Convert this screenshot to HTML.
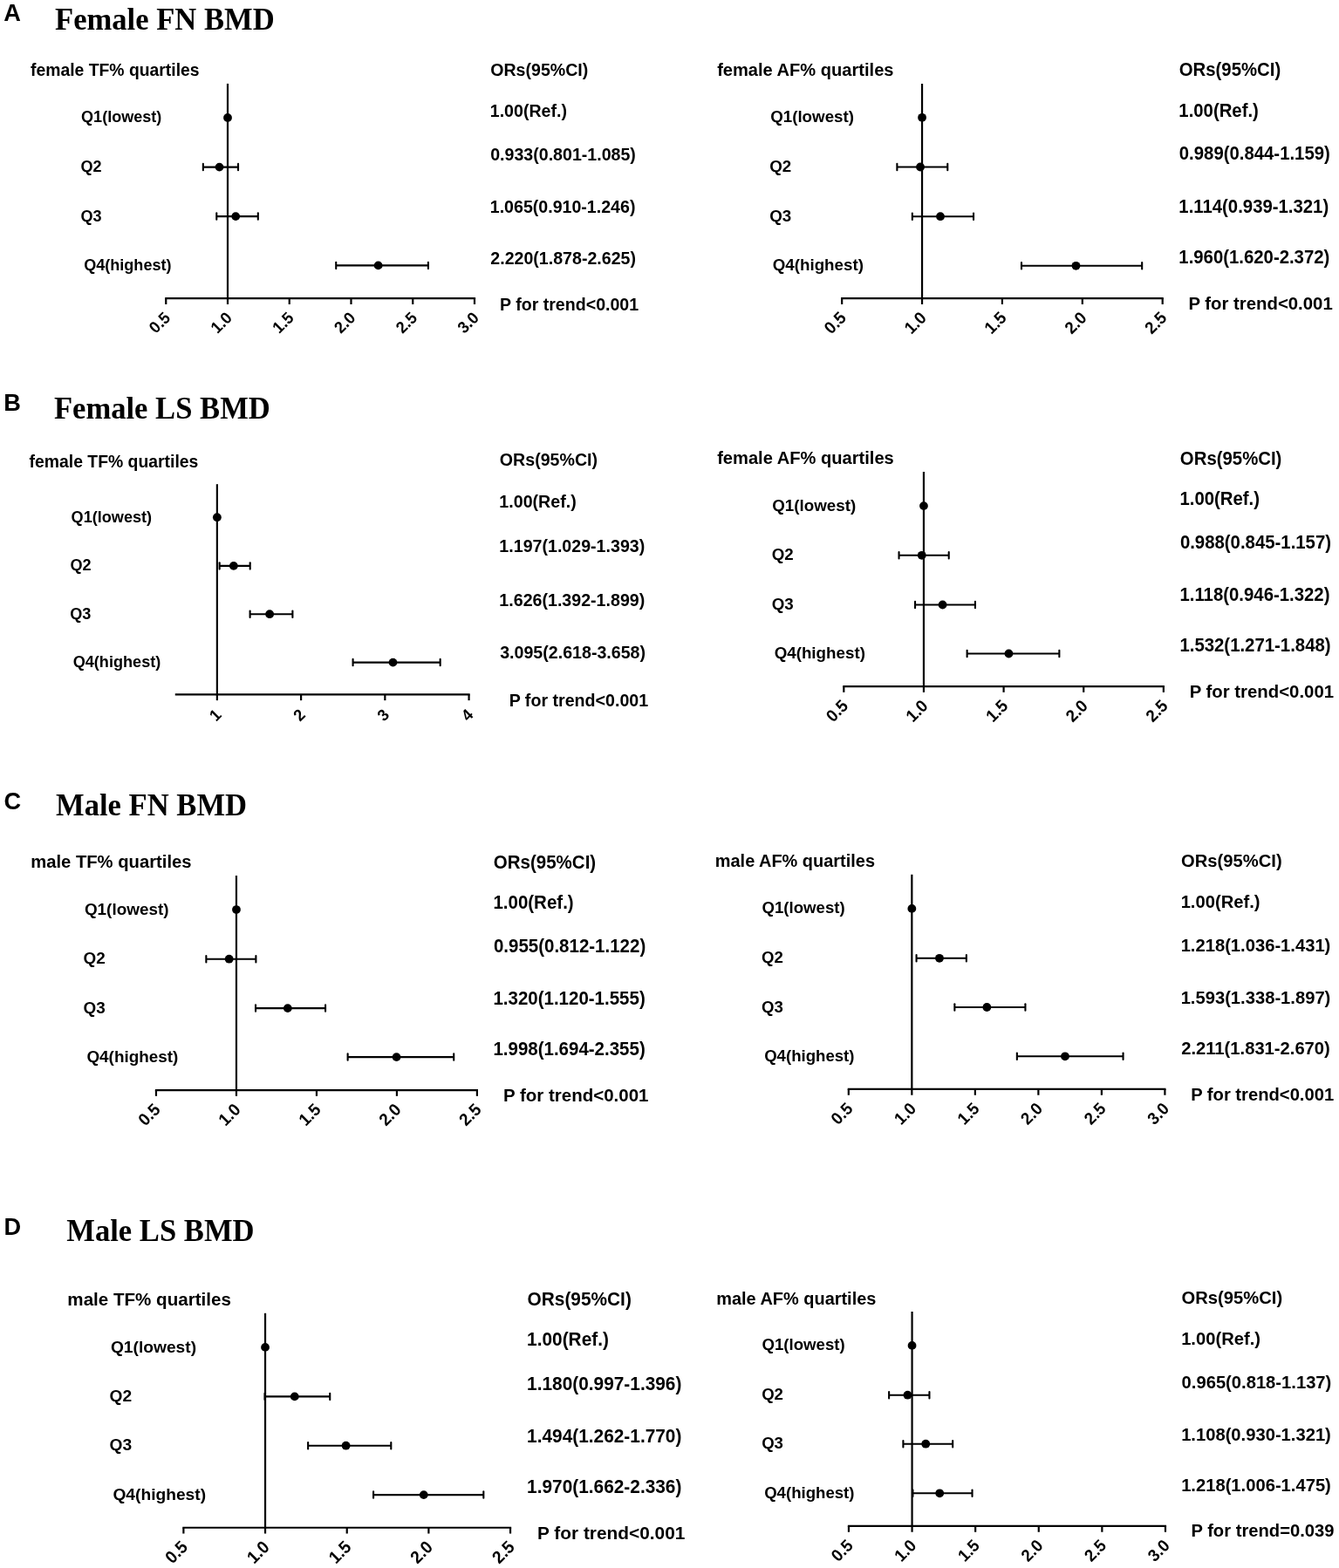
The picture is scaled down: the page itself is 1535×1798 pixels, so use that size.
<!DOCTYPE html>
<html><head><meta charset="utf-8"><title>Forest plots</title>
<style>
html,body{margin:0;padding:0;background:#fff;}
body{width:1535px;height:1798px;overflow:hidden;}
svg{display:block;}
.f1{font-family:"Liberation Sans",Arial,sans-serif;font-weight:bold;fill:#000;}
.f2{font-family:"Liberation Serif","Times New Roman",serif;font-weight:bold;fill:#000;}
line{stroke:#000;}
circle{fill:#000;}
</style></head>
<body>
<svg width="1535" height="1798" viewBox="0 0 1535 1798">
<rect width="1535" height="1798" fill="#fff"/>
<text class="f1" x="4.32" y="24.20" font-size="27.2">A</text>
<text class="f1" x="4.24" y="470.80" font-size="27.2">B</text>
<text class="f1" x="4.38" y="927.60" font-size="27.2">C</text>
<text class="f1" x="4.43" y="1416.00" font-size="27.2">D</text>
<text class="f2" transform="translate(63.01 33.90) scale(1 1.05)" font-size="34.6">Female FN BMD</text>
<text class="f2" transform="translate(61.91 479.90) scale(1 1.05)" font-size="34.6">Female LS BMD</text>
<text class="f2" transform="translate(64.01 934.80) scale(1 1.05)" font-size="34.6">Male FN BMD</text>
<text class="f2" transform="translate(76.31 1423.00) scale(1 1.05)" font-size="34.6">Male LS BMD</text>
<text class="f1" x="35.07" y="87.00" font-size="19.35">female TF% quartiles</text>
<line x1="189.16" y1="342.15" x2="545.08" y2="342.15" stroke-width="2.2" stroke-linecap="butt"/>
<line x1="261.00" y1="95.90" x2="261.00" y2="343.25" stroke-width="2.2" stroke-linecap="butt"/>
<line x1="190.25" y1="342.15" x2="190.25" y2="348.95" stroke-width="2.2" stroke-linecap="butt"/>
<text class="f1" font-size="18.03" text-anchor="end" transform="translate(196.25 365.65) rotate(-45) scale(1 1.04)">0.5</text>
<line x1="261.00" y1="342.15" x2="261.00" y2="348.95" stroke-width="2.2" stroke-linecap="butt"/>
<text class="f1" font-size="18.03" text-anchor="end" transform="translate(267.00 365.65) rotate(-45) scale(1 1.04)">1.0</text>
<line x1="331.75" y1="342.15" x2="331.75" y2="348.95" stroke-width="2.2" stroke-linecap="butt"/>
<text class="f1" font-size="18.03" text-anchor="end" transform="translate(337.75 365.65) rotate(-45) scale(1 1.04)">1.5</text>
<line x1="402.49" y1="342.15" x2="402.49" y2="348.95" stroke-width="2.2" stroke-linecap="butt"/>
<text class="f1" font-size="18.03" text-anchor="end" transform="translate(408.49 365.65) rotate(-45) scale(1 1.04)">2.0</text>
<line x1="473.24" y1="342.15" x2="473.24" y2="348.95" stroke-width="2.2" stroke-linecap="butt"/>
<text class="f1" font-size="18.03" text-anchor="end" transform="translate(479.24 365.65) rotate(-45) scale(1 1.04)">2.5</text>
<line x1="543.98" y1="342.15" x2="543.98" y2="348.95" stroke-width="2.2" stroke-linecap="butt"/>
<text class="f1" font-size="18.03" text-anchor="end" transform="translate(549.98 365.65) rotate(-45) scale(1 1.04)">3.0</text>
<circle cx="261.00" cy="135.00" r="4.9"/>
<line x1="232.84" y1="191.60" x2="273.03" y2="191.60" stroke-width="2.1" stroke-linecap="butt"/>
<line x1="232.84" y1="187.90" x2="232.84" y2="195.30" stroke-width="2.1" stroke-linecap="round"/>
<line x1="273.03" y1="187.90" x2="273.03" y2="195.30" stroke-width="2.1" stroke-linecap="round"/>
<circle cx="251.52" cy="191.60" r="4.9"/>
<line x1="248.27" y1="248.10" x2="295.81" y2="248.10" stroke-width="2.1" stroke-linecap="butt"/>
<line x1="248.27" y1="244.40" x2="248.27" y2="251.80" stroke-width="2.1" stroke-linecap="round"/>
<line x1="295.81" y1="244.40" x2="295.81" y2="251.80" stroke-width="2.1" stroke-linecap="round"/>
<circle cx="270.20" cy="248.10" r="4.9"/>
<line x1="385.23" y1="304.40" x2="490.92" y2="304.40" stroke-width="2.1" stroke-linecap="butt"/>
<line x1="385.23" y1="300.70" x2="385.23" y2="308.10" stroke-width="2.1" stroke-linecap="round"/>
<line x1="490.92" y1="300.70" x2="490.92" y2="308.10" stroke-width="2.1" stroke-linecap="round"/>
<circle cx="433.62" cy="304.40" r="4.9"/>
<text class="f1" x="93.06" y="140.42" font-size="18.07">Q1(lowest)</text>
<text class="f1" x="92.56" y="197.02" font-size="18.07">Q2</text>
<text class="f1" x="92.56" y="253.52" font-size="18.07">Q3</text>
<text class="f1" x="96.16" y="309.82" font-size="18.07">Q4(highest)</text>
<text class="f1" transform="translate(562.20 87.00) scale(1 1.04)" font-size="19.6">ORs(95%CI)</text>
<text class="f1" transform="translate(561.77 133.80) scale(1 1.04)" font-size="19.6">1.00(Ref.)</text>
<text class="f1" transform="translate(562.22 184.00) scale(1 1.04)" font-size="19.6">0.933(0.801-1.085)</text>
<text class="f1" transform="translate(561.77 244.10) scale(1 1.04)" font-size="19.6">1.065(0.910-1.246)</text>
<text class="f1" transform="translate(562.32 302.80) scale(1 1.04)" font-size="19.6">2.220(1.878-2.625)</text>
<text class="f1" x="572.99" y="355.60" font-size="19.6">P for trend&lt;0.001</text>
<text class="f1" x="822.16" y="87.00" font-size="20.09">female AF% quartiles</text>
<line x1="964.06" y1="342.15" x2="1333.80" y2="342.15" stroke-width="2.2" stroke-linecap="butt"/>
<line x1="1057.05" y1="96.00" x2="1057.05" y2="343.25" stroke-width="2.2" stroke-linecap="butt"/>
<line x1="965.16" y1="342.15" x2="965.16" y2="348.95" stroke-width="2.2" stroke-linecap="butt"/>
<text class="f1" font-size="18.72" text-anchor="end" transform="translate(971.16 365.65) rotate(-45) scale(1 1.04)">0.5</text>
<line x1="1057.05" y1="342.15" x2="1057.05" y2="348.95" stroke-width="2.2" stroke-linecap="butt"/>
<text class="f1" font-size="18.72" text-anchor="end" transform="translate(1063.05 365.65) rotate(-45) scale(1 1.04)">1.0</text>
<line x1="1148.93" y1="342.15" x2="1148.93" y2="348.95" stroke-width="2.2" stroke-linecap="butt"/>
<text class="f1" font-size="18.72" text-anchor="end" transform="translate(1154.93 365.65) rotate(-45) scale(1 1.04)">1.5</text>
<line x1="1240.82" y1="342.15" x2="1240.82" y2="348.95" stroke-width="2.2" stroke-linecap="butt"/>
<text class="f1" font-size="18.72" text-anchor="end" transform="translate(1246.82 365.65) rotate(-45) scale(1 1.04)">2.0</text>
<line x1="1332.70" y1="342.15" x2="1332.70" y2="348.95" stroke-width="2.2" stroke-linecap="butt"/>
<text class="f1" font-size="18.72" text-anchor="end" transform="translate(1338.70 365.65) rotate(-45) scale(1 1.04)">2.5</text>
<circle cx="1057.05" cy="134.80" r="4.9"/>
<line x1="1028.38" y1="191.50" x2="1086.27" y2="191.50" stroke-width="2.1" stroke-linecap="butt"/>
<line x1="1028.38" y1="187.80" x2="1028.38" y2="195.20" stroke-width="2.1" stroke-linecap="round"/>
<line x1="1086.27" y1="187.80" x2="1086.27" y2="195.20" stroke-width="2.1" stroke-linecap="round"/>
<circle cx="1055.03" cy="191.50" r="4.9"/>
<line x1="1045.84" y1="248.20" x2="1116.04" y2="248.20" stroke-width="2.1" stroke-linecap="butt"/>
<line x1="1045.84" y1="244.50" x2="1045.84" y2="251.90" stroke-width="2.1" stroke-linecap="round"/>
<line x1="1116.04" y1="244.50" x2="1116.04" y2="251.90" stroke-width="2.1" stroke-linecap="round"/>
<circle cx="1078.00" cy="248.20" r="4.9"/>
<line x1="1170.99" y1="304.80" x2="1309.18" y2="304.80" stroke-width="2.1" stroke-linecap="butt"/>
<line x1="1170.99" y1="301.10" x2="1170.99" y2="308.50" stroke-width="2.1" stroke-linecap="round"/>
<line x1="1309.18" y1="301.10" x2="1309.18" y2="308.50" stroke-width="2.1" stroke-linecap="round"/>
<circle cx="1233.47" cy="304.80" r="4.9"/>
<text class="f1" x="883.13" y="140.43" font-size="18.76">Q1(lowest)</text>
<text class="f1" x="882.23" y="197.13" font-size="18.76">Q2</text>
<text class="f1" x="882.23" y="253.83" font-size="18.76">Q3</text>
<text class="f1" x="885.73" y="310.43" font-size="18.76">Q4(highest)</text>
<text class="f1" transform="translate(1351.77 87.20) scale(1 1.04)" font-size="20.35">ORs(95%CI)</text>
<text class="f1" transform="translate(1351.32 133.50) scale(1 1.04)" font-size="20.35">1.00(Ref.)</text>
<text class="f1" transform="translate(1351.80 183.10) scale(1 1.04)" font-size="20.35">0.989(0.844-1.159)</text>
<text class="f1" transform="translate(1351.32 243.80) scale(1 1.04)" font-size="20.35">1.114(0.939-1.321)</text>
<text class="f1" transform="translate(1351.32 302.30) scale(1 1.04)" font-size="20.35">1.960(1.620-2.372)</text>
<text class="f1" x="1362.44" y="355.40" font-size="20.35">P for trend&lt;0.001</text>
<text class="f1" x="33.57" y="535.90" font-size="19.39">female TF% quartiles</text>
<line x1="200.76" y1="796.34" x2="538.67" y2="796.34" stroke-width="2.2" stroke-linecap="butt"/>
<line x1="248.88" y1="555.20" x2="248.88" y2="797.44" stroke-width="2.2" stroke-linecap="butt"/>
<line x1="248.88" y1="796.34" x2="248.88" y2="803.14" stroke-width="2.2" stroke-linecap="butt"/>
<text class="f1" font-size="18.07" text-anchor="end" transform="translate(254.88 820.84) rotate(-45) scale(1 1.04)">1</text>
<line x1="345.11" y1="796.34" x2="345.11" y2="803.14" stroke-width="2.2" stroke-linecap="butt"/>
<text class="f1" font-size="18.07" text-anchor="end" transform="translate(351.11 820.84) rotate(-45) scale(1 1.04)">2</text>
<line x1="441.34" y1="796.34" x2="441.34" y2="803.14" stroke-width="2.2" stroke-linecap="butt"/>
<text class="f1" font-size="18.07" text-anchor="end" transform="translate(447.34 820.84) rotate(-45) scale(1 1.04)">3</text>
<line x1="537.57" y1="796.34" x2="537.57" y2="803.14" stroke-width="2.2" stroke-linecap="butt"/>
<text class="f1" font-size="18.07" text-anchor="end" transform="translate(543.57 820.84) rotate(-45) scale(1 1.04)">4</text>
<circle cx="248.88" cy="593.20" r="4.9"/>
<line x1="251.67" y1="648.90" x2="286.70" y2="648.90" stroke-width="2.1" stroke-linecap="butt"/>
<line x1="251.67" y1="645.20" x2="251.67" y2="652.60" stroke-width="2.1" stroke-linecap="round"/>
<line x1="286.70" y1="645.20" x2="286.70" y2="652.60" stroke-width="2.1" stroke-linecap="round"/>
<circle cx="267.84" cy="648.90" r="4.9"/>
<line x1="286.60" y1="704.20" x2="335.39" y2="704.20" stroke-width="2.1" stroke-linecap="butt"/>
<line x1="286.60" y1="700.50" x2="286.60" y2="707.90" stroke-width="2.1" stroke-linecap="round"/>
<line x1="335.39" y1="700.50" x2="335.39" y2="707.90" stroke-width="2.1" stroke-linecap="round"/>
<circle cx="309.12" cy="704.20" r="4.9"/>
<line x1="404.58" y1="759.60" x2="504.66" y2="759.60" stroke-width="2.1" stroke-linecap="butt"/>
<line x1="404.58" y1="755.90" x2="404.58" y2="763.30" stroke-width="2.1" stroke-linecap="round"/>
<line x1="504.66" y1="755.90" x2="504.66" y2="763.30" stroke-width="2.1" stroke-linecap="round"/>
<circle cx="450.48" cy="759.60" r="4.9"/>
<text class="f1" x="81.56" y="598.63" font-size="18.11">Q1(lowest)</text>
<text class="f1" x="80.46" y="654.33" font-size="18.11">Q2</text>
<text class="f1" x="80.26" y="709.63" font-size="18.11">Q3</text>
<text class="f1" x="83.66" y="765.03" font-size="18.11">Q4(highest)</text>
<text class="f1" transform="translate(572.79 533.60) scale(1 1.04)" font-size="19.64">ORs(95%CI)</text>
<text class="f1" transform="translate(572.36 581.70) scale(1 1.04)" font-size="19.64">1.00(Ref.)</text>
<text class="f1" transform="translate(572.36 633.00) scale(1 1.04)" font-size="19.64">1.197(1.029-1.393)</text>
<text class="f1" transform="translate(572.36 695.40) scale(1 1.04)" font-size="19.64">1.626(1.392-1.899)</text>
<text class="f1" transform="translate(573.15 755.00) scale(1 1.04)" font-size="19.64">3.095(2.618-3.658)</text>
<text class="f1" x="583.69" y="810.00" font-size="19.64">P for trend&lt;0.001</text>
<text class="f1" x="822.16" y="532.20" font-size="20.11">female AF% quartiles</text>
<line x1="966.22" y1="787.05" x2="1334.95" y2="787.05" stroke-width="2.2" stroke-linecap="butt"/>
<line x1="1058.95" y1="541.00" x2="1058.95" y2="788.15" stroke-width="2.2" stroke-linecap="butt"/>
<line x1="967.32" y1="787.05" x2="967.32" y2="793.85" stroke-width="2.2" stroke-linecap="butt"/>
<text class="f1" font-size="18.74" text-anchor="end" transform="translate(973.32 810.55) rotate(-45) scale(1 1.04)">0.5</text>
<line x1="1058.95" y1="787.05" x2="1058.95" y2="793.85" stroke-width="2.2" stroke-linecap="butt"/>
<text class="f1" font-size="18.74" text-anchor="end" transform="translate(1064.95 810.55) rotate(-45) scale(1 1.04)">1.0</text>
<line x1="1150.59" y1="787.05" x2="1150.59" y2="793.85" stroke-width="2.2" stroke-linecap="butt"/>
<text class="f1" font-size="18.74" text-anchor="end" transform="translate(1156.59 810.55) rotate(-45) scale(1 1.04)">1.5</text>
<line x1="1242.22" y1="787.05" x2="1242.22" y2="793.85" stroke-width="2.2" stroke-linecap="butt"/>
<text class="f1" font-size="18.74" text-anchor="end" transform="translate(1248.22 810.55) rotate(-45) scale(1 1.04)">2.0</text>
<line x1="1333.86" y1="787.05" x2="1333.86" y2="793.85" stroke-width="2.2" stroke-linecap="butt"/>
<text class="f1" font-size="18.74" text-anchor="end" transform="translate(1339.86 810.55) rotate(-45) scale(1 1.04)">2.5</text>
<circle cx="1058.95" cy="580.10" r="4.9"/>
<line x1="1030.54" y1="636.80" x2="1087.72" y2="636.80" stroke-width="2.1" stroke-linecap="butt"/>
<line x1="1030.54" y1="633.10" x2="1030.54" y2="640.50" stroke-width="2.1" stroke-linecap="round"/>
<line x1="1087.72" y1="633.10" x2="1087.72" y2="640.50" stroke-width="2.1" stroke-linecap="round"/>
<circle cx="1056.75" cy="636.80" r="4.9"/>
<line x1="1049.05" y1="693.50" x2="1117.96" y2="693.50" stroke-width="2.1" stroke-linecap="butt"/>
<line x1="1049.05" y1="689.80" x2="1049.05" y2="697.20" stroke-width="2.1" stroke-linecap="round"/>
<line x1="1117.96" y1="689.80" x2="1117.96" y2="697.20" stroke-width="2.1" stroke-linecap="round"/>
<circle cx="1080.58" cy="693.50" r="4.9"/>
<line x1="1108.62" y1="749.50" x2="1214.36" y2="749.50" stroke-width="2.1" stroke-linecap="butt"/>
<line x1="1108.62" y1="745.80" x2="1108.62" y2="753.20" stroke-width="2.1" stroke-linecap="round"/>
<line x1="1214.36" y1="745.80" x2="1214.36" y2="753.20" stroke-width="2.1" stroke-linecap="round"/>
<circle cx="1156.45" cy="749.50" r="4.9"/>
<text class="f1" x="885.23" y="585.73" font-size="18.78">Q1(lowest)</text>
<text class="f1" x="884.63" y="642.43" font-size="18.78">Q2</text>
<text class="f1" x="884.63" y="699.13" font-size="18.78">Q3</text>
<text class="f1" x="887.63" y="755.13" font-size="18.78">Q4(highest)</text>
<text class="f1" transform="translate(1352.86 532.60) scale(1 1.04)" font-size="20.37">ORs(95%CI)</text>
<text class="f1" transform="translate(1352.42 579.20) scale(1 1.04)" font-size="20.37">1.00(Ref.)</text>
<text class="f1" transform="translate(1352.89 629.00) scale(1 1.04)" font-size="20.37">0.988(0.845-1.157)</text>
<text class="f1" transform="translate(1352.42 688.60) scale(1 1.04)" font-size="20.37">1.118(0.946-1.322)</text>
<text class="f1" transform="translate(1352.42 747.30) scale(1 1.04)" font-size="20.37">1.532(1.271-1.848)</text>
<text class="f1" x="1363.64" y="799.80" font-size="20.37">P for trend&lt;0.001</text>
<text class="f1" x="35.17" y="995.00" font-size="20.24">male TF% quartiles</text>
<line x1="177.86" y1="1250.05" x2="548.00" y2="1250.05" stroke-width="2.2" stroke-linecap="butt"/>
<line x1="270.95" y1="1004.00" x2="270.95" y2="1251.15" stroke-width="2.2" stroke-linecap="butt"/>
<line x1="178.96" y1="1250.05" x2="178.96" y2="1256.85" stroke-width="2.2" stroke-linecap="butt"/>
<text class="f1" font-size="18.86" text-anchor="end" transform="translate(184.96 1273.55) rotate(-45) scale(1 1.04)">0.5</text>
<line x1="270.95" y1="1250.05" x2="270.95" y2="1256.85" stroke-width="2.2" stroke-linecap="butt"/>
<text class="f1" font-size="18.86" text-anchor="end" transform="translate(276.95 1273.55) rotate(-45) scale(1 1.04)">1.0</text>
<line x1="362.94" y1="1250.05" x2="362.94" y2="1256.85" stroke-width="2.2" stroke-linecap="butt"/>
<text class="f1" font-size="18.86" text-anchor="end" transform="translate(368.94 1273.55) rotate(-45) scale(1 1.04)">1.5</text>
<line x1="454.92" y1="1250.05" x2="454.92" y2="1256.85" stroke-width="2.2" stroke-linecap="butt"/>
<text class="f1" font-size="18.86" text-anchor="end" transform="translate(460.92 1273.55) rotate(-45) scale(1 1.04)">2.0</text>
<line x1="546.90" y1="1250.05" x2="546.90" y2="1256.85" stroke-width="2.2" stroke-linecap="butt"/>
<text class="f1" font-size="18.86" text-anchor="end" transform="translate(552.90 1273.55) rotate(-45) scale(1 1.04)">2.5</text>
<circle cx="270.95" cy="1043.05" r="4.9"/>
<line x1="236.36" y1="1099.70" x2="293.39" y2="1099.70" stroke-width="2.1" stroke-linecap="butt"/>
<line x1="236.36" y1="1096.00" x2="236.36" y2="1103.40" stroke-width="2.1" stroke-linecap="round"/>
<line x1="293.39" y1="1096.00" x2="293.39" y2="1103.40" stroke-width="2.1" stroke-linecap="round"/>
<circle cx="262.67" cy="1099.70" r="4.9"/>
<line x1="293.03" y1="1156.10" x2="373.05" y2="1156.10" stroke-width="2.1" stroke-linecap="butt"/>
<line x1="293.03" y1="1152.40" x2="293.03" y2="1159.80" stroke-width="2.1" stroke-linecap="round"/>
<line x1="373.05" y1="1152.40" x2="373.05" y2="1159.80" stroke-width="2.1" stroke-linecap="round"/>
<circle cx="329.82" cy="1156.10" r="4.9"/>
<line x1="398.63" y1="1212.10" x2="520.23" y2="1212.10" stroke-width="2.1" stroke-linecap="butt"/>
<line x1="398.63" y1="1208.40" x2="398.63" y2="1215.80" stroke-width="2.1" stroke-linecap="round"/>
<line x1="520.23" y1="1208.40" x2="520.23" y2="1215.80" stroke-width="2.1" stroke-linecap="round"/>
<circle cx="454.55" cy="1212.10" r="4.9"/>
<text class="f1" x="96.92" y="1048.72" font-size="18.9">Q1(lowest)</text>
<text class="f1" x="95.52" y="1105.37" font-size="18.9">Q2</text>
<text class="f1" x="95.52" y="1161.77" font-size="18.9">Q3</text>
<text class="f1" x="99.42" y="1217.77" font-size="18.9">Q4(highest)</text>
<text class="f1" transform="translate(565.86 995.60) scale(1 1.04)" font-size="20.5">ORs(95%CI)</text>
<text class="f1" transform="translate(565.41 1042.20) scale(1 1.04)" font-size="20.5">1.00(Ref.)</text>
<text class="f1" transform="translate(565.89 1092.20) scale(1 1.04)" font-size="20.5">0.955(0.812-1.122)</text>
<text class="f1" transform="translate(565.41 1152.20) scale(1 1.04)" font-size="20.5">1.320(1.120-1.555)</text>
<text class="f1" transform="translate(565.41 1210.00) scale(1 1.04)" font-size="20.5">1.998(1.694-2.355)</text>
<text class="f1" x="576.93" y="1262.50" font-size="20.5">P for trend&lt;0.001</text>
<text class="f1" x="819.79" y="994.20" font-size="19.94">male AF% quartiles</text>
<line x1="971.72" y1="1248.97" x2="1336.50" y2="1248.97" stroke-width="2.2" stroke-linecap="butt"/>
<line x1="1045.34" y1="1002.80" x2="1045.34" y2="1250.07" stroke-width="2.2" stroke-linecap="butt"/>
<line x1="972.82" y1="1248.97" x2="972.82" y2="1255.77" stroke-width="2.2" stroke-linecap="butt"/>
<text class="f1" font-size="18.58" text-anchor="end" transform="translate(978.82 1272.47) rotate(-45) scale(1 1.04)">0.5</text>
<line x1="1045.34" y1="1248.97" x2="1045.34" y2="1255.77" stroke-width="2.2" stroke-linecap="butt"/>
<text class="f1" font-size="18.58" text-anchor="end" transform="translate(1051.34 1272.47) rotate(-45) scale(1 1.04)">1.0</text>
<line x1="1117.86" y1="1248.97" x2="1117.86" y2="1255.77" stroke-width="2.2" stroke-linecap="butt"/>
<text class="f1" font-size="18.58" text-anchor="end" transform="translate(1123.86 1272.47) rotate(-45) scale(1 1.04)">1.5</text>
<line x1="1190.37" y1="1248.97" x2="1190.37" y2="1255.77" stroke-width="2.2" stroke-linecap="butt"/>
<text class="f1" font-size="18.58" text-anchor="end" transform="translate(1196.37 1272.47) rotate(-45) scale(1 1.04)">2.0</text>
<line x1="1262.88" y1="1248.97" x2="1262.88" y2="1255.77" stroke-width="2.2" stroke-linecap="butt"/>
<text class="f1" font-size="18.58" text-anchor="end" transform="translate(1268.88 1272.47) rotate(-45) scale(1 1.04)">2.5</text>
<line x1="1335.40" y1="1248.97" x2="1335.40" y2="1255.77" stroke-width="2.2" stroke-linecap="butt"/>
<text class="f1" font-size="18.58" text-anchor="end" transform="translate(1341.40 1272.47) rotate(-45) scale(1 1.04)">3.0</text>
<circle cx="1045.34" cy="1041.90" r="4.9"/>
<line x1="1050.56" y1="1098.80" x2="1107.85" y2="1098.80" stroke-width="2.1" stroke-linecap="butt"/>
<line x1="1050.56" y1="1095.10" x2="1050.56" y2="1102.50" stroke-width="2.1" stroke-linecap="round"/>
<line x1="1107.85" y1="1095.10" x2="1107.85" y2="1102.50" stroke-width="2.1" stroke-linecap="round"/>
<circle cx="1076.96" cy="1098.80" r="4.9"/>
<line x1="1094.36" y1="1155.00" x2="1175.43" y2="1155.00" stroke-width="2.1" stroke-linecap="butt"/>
<line x1="1094.36" y1="1151.30" x2="1094.36" y2="1158.70" stroke-width="2.1" stroke-linecap="round"/>
<line x1="1175.43" y1="1151.30" x2="1175.43" y2="1158.70" stroke-width="2.1" stroke-linecap="round"/>
<circle cx="1131.34" cy="1155.00" r="4.9"/>
<line x1="1165.86" y1="1211.30" x2="1287.54" y2="1211.30" stroke-width="2.1" stroke-linecap="butt"/>
<line x1="1165.86" y1="1207.60" x2="1165.86" y2="1215.00" stroke-width="2.1" stroke-linecap="round"/>
<line x1="1287.54" y1="1207.60" x2="1287.54" y2="1215.00" stroke-width="2.1" stroke-linecap="round"/>
<circle cx="1220.97" cy="1211.30" r="4.9"/>
<text class="f1" x="873.54" y="1047.49" font-size="18.62">Q1(lowest)</text>
<text class="f1" x="873.04" y="1104.39" font-size="18.62">Q2</text>
<text class="f1" x="873.04" y="1160.59" font-size="18.62">Q3</text>
<text class="f1" x="876.14" y="1216.89" font-size="18.62">Q4(highest)</text>
<text class="f1" transform="translate(1354.07 994.20) scale(1 1.04)" font-size="20.2">ORs(95%CI)</text>
<text class="f1" transform="translate(1353.63 1041.00) scale(1 1.04)" font-size="20.2">1.00(Ref.)</text>
<text class="f1" transform="translate(1353.63 1091.10) scale(1 1.04)" font-size="20.2">1.218(1.036-1.431)</text>
<text class="f1" transform="translate(1353.63 1151.30) scale(1 1.04)" font-size="20.2">1.593(1.338-1.897)</text>
<text class="f1" transform="translate(1354.20 1209.10) scale(1 1.04)" font-size="20.2">2.211(1.831-2.670)</text>
<text class="f1" x="1365.15" y="1261.60" font-size="20.2">P for trend&lt;0.001</text>
<text class="f1" x="77.34" y="1496.70" font-size="20.58">male TF% quartiles</text>
<line x1="209.28" y1="1751.73" x2="586.15" y2="1751.73" stroke-width="2.2" stroke-linecap="butt"/>
<line x1="304.05" y1="1505.80" x2="304.05" y2="1752.83" stroke-width="2.2" stroke-linecap="butt"/>
<line x1="210.38" y1="1751.73" x2="210.38" y2="1758.53" stroke-width="2.2" stroke-linecap="butt"/>
<text class="f1" font-size="19.18" text-anchor="end" transform="translate(216.38 1775.23) rotate(-45) scale(1 1.04)">0.5</text>
<line x1="304.05" y1="1751.73" x2="304.05" y2="1758.53" stroke-width="2.2" stroke-linecap="butt"/>
<text class="f1" font-size="19.18" text-anchor="end" transform="translate(310.05 1775.23) rotate(-45) scale(1 1.04)">1.0</text>
<line x1="397.72" y1="1751.73" x2="397.72" y2="1758.53" stroke-width="2.2" stroke-linecap="butt"/>
<text class="f1" font-size="19.18" text-anchor="end" transform="translate(403.72 1775.23) rotate(-45) scale(1 1.04)">1.5</text>
<line x1="491.38" y1="1751.73" x2="491.38" y2="1758.53" stroke-width="2.2" stroke-linecap="butt"/>
<text class="f1" font-size="19.18" text-anchor="end" transform="translate(497.38 1775.23) rotate(-45) scale(1 1.04)">2.0</text>
<line x1="585.05" y1="1751.73" x2="585.05" y2="1758.53" stroke-width="2.2" stroke-linecap="butt"/>
<text class="f1" font-size="19.18" text-anchor="end" transform="translate(591.05 1775.23) rotate(-45) scale(1 1.04)">2.5</text>
<circle cx="304.05" cy="1544.90" r="4.9"/>
<line x1="303.49" y1="1601.40" x2="378.23" y2="1601.40" stroke-width="2.1" stroke-linecap="butt"/>
<line x1="303.49" y1="1597.70" x2="303.49" y2="1605.10" stroke-width="2.1" stroke-linecap="round"/>
<line x1="378.23" y1="1597.70" x2="378.23" y2="1605.10" stroke-width="2.1" stroke-linecap="round"/>
<circle cx="337.77" cy="1601.40" r="4.9"/>
<line x1="353.13" y1="1657.70" x2="448.29" y2="1657.70" stroke-width="2.1" stroke-linecap="butt"/>
<line x1="353.13" y1="1654.00" x2="353.13" y2="1661.40" stroke-width="2.1" stroke-linecap="round"/>
<line x1="448.29" y1="1654.00" x2="448.29" y2="1661.40" stroke-width="2.1" stroke-linecap="round"/>
<circle cx="396.59" cy="1657.70" r="4.9"/>
<line x1="428.06" y1="1714.10" x2="554.32" y2="1714.10" stroke-width="2.1" stroke-linecap="butt"/>
<line x1="428.06" y1="1710.40" x2="428.06" y2="1717.80" stroke-width="2.1" stroke-linecap="round"/>
<line x1="554.32" y1="1710.40" x2="554.32" y2="1717.80" stroke-width="2.1" stroke-linecap="round"/>
<circle cx="485.76" cy="1714.10" r="4.9"/>
<text class="f1" x="126.91" y="1550.67" font-size="19.22">Q1(lowest)</text>
<text class="f1" x="125.51" y="1607.17" font-size="19.22">Q2</text>
<text class="f1" x="125.51" y="1663.47" font-size="19.22">Q3</text>
<text class="f1" x="129.41" y="1719.87" font-size="19.22">Q4(highest)</text>
<text class="f1" transform="translate(604.54 1496.80) scale(1 1.04)" font-size="20.85">ORs(95%CI)</text>
<text class="f1" transform="translate(604.09 1543.30) scale(1 1.04)" font-size="20.85">1.00(Ref.)</text>
<text class="f1" transform="translate(604.09 1593.50) scale(1 1.04)" font-size="20.85">1.180(0.997-1.396)</text>
<text class="f1" transform="translate(604.09 1654.00) scale(1 1.04)" font-size="20.85">1.494(1.262-1.770)</text>
<text class="f1" transform="translate(604.09 1712.40) scale(1 1.04)" font-size="20.85">1.970(1.662-2.336)</text>
<text class="f1" x="616.01" y="1765.20" font-size="20.85">P for trend&lt;0.001</text>
<text class="f1" x="821.19" y="1495.60" font-size="19.94">male AF% quartiles</text>
<line x1="971.86" y1="1749.97" x2="1337.06" y2="1749.97" stroke-width="2.2" stroke-linecap="butt"/>
<line x1="1045.56" y1="1504.00" x2="1045.56" y2="1751.07" stroke-width="2.2" stroke-linecap="butt"/>
<line x1="972.96" y1="1749.97" x2="972.96" y2="1756.77" stroke-width="2.2" stroke-linecap="butt"/>
<text class="f1" font-size="18.58" text-anchor="end" transform="translate(978.96 1773.47) rotate(-45) scale(1 1.04)">0.5</text>
<line x1="1045.56" y1="1749.97" x2="1045.56" y2="1756.77" stroke-width="2.2" stroke-linecap="butt"/>
<text class="f1" font-size="18.58" text-anchor="end" transform="translate(1051.56 1773.47) rotate(-45) scale(1 1.04)">1.0</text>
<line x1="1118.16" y1="1749.97" x2="1118.16" y2="1756.77" stroke-width="2.2" stroke-linecap="butt"/>
<text class="f1" font-size="18.58" text-anchor="end" transform="translate(1124.16 1773.47) rotate(-45) scale(1 1.04)">1.5</text>
<line x1="1190.76" y1="1749.97" x2="1190.76" y2="1756.77" stroke-width="2.2" stroke-linecap="butt"/>
<text class="f1" font-size="18.58" text-anchor="end" transform="translate(1196.76 1773.47) rotate(-45) scale(1 1.04)">2.0</text>
<line x1="1263.36" y1="1749.97" x2="1263.36" y2="1756.77" stroke-width="2.2" stroke-linecap="butt"/>
<text class="f1" font-size="18.58" text-anchor="end" transform="translate(1269.36 1773.47) rotate(-45) scale(1 1.04)">2.5</text>
<line x1="1335.96" y1="1749.97" x2="1335.96" y2="1756.77" stroke-width="2.2" stroke-linecap="butt"/>
<text class="f1" font-size="18.58" text-anchor="end" transform="translate(1341.96 1773.47) rotate(-45) scale(1 1.04)">3.0</text>
<circle cx="1045.56" cy="1542.90" r="4.9"/>
<line x1="1019.13" y1="1599.70" x2="1065.45" y2="1599.70" stroke-width="2.1" stroke-linecap="butt"/>
<line x1="1019.13" y1="1596.00" x2="1019.13" y2="1603.40" stroke-width="2.1" stroke-linecap="round"/>
<line x1="1065.45" y1="1596.00" x2="1065.45" y2="1603.40" stroke-width="2.1" stroke-linecap="round"/>
<circle cx="1040.48" cy="1599.70" r="4.9"/>
<line x1="1035.40" y1="1655.70" x2="1092.17" y2="1655.70" stroke-width="2.1" stroke-linecap="butt"/>
<line x1="1035.40" y1="1652.00" x2="1035.40" y2="1659.40" stroke-width="2.1" stroke-linecap="round"/>
<line x1="1092.17" y1="1652.00" x2="1092.17" y2="1659.40" stroke-width="2.1" stroke-linecap="round"/>
<circle cx="1061.24" cy="1655.70" r="4.9"/>
<line x1="1046.43" y1="1712.30" x2="1114.53" y2="1712.30" stroke-width="2.1" stroke-linecap="butt"/>
<line x1="1046.43" y1="1708.60" x2="1046.43" y2="1716.00" stroke-width="2.1" stroke-linecap="round"/>
<line x1="1114.53" y1="1708.60" x2="1114.53" y2="1716.00" stroke-width="2.1" stroke-linecap="round"/>
<circle cx="1077.21" cy="1712.30" r="4.9"/>
<text class="f1" x="873.54" y="1548.49" font-size="18.62">Q1(lowest)</text>
<text class="f1" x="873.14" y="1605.29" font-size="18.62">Q2</text>
<text class="f1" x="873.14" y="1661.29" font-size="18.62">Q3</text>
<text class="f1" x="876.14" y="1717.89" font-size="18.62">Q4(highest)</text>
<text class="f1" transform="translate(1354.57 1494.70) scale(1 1.04)" font-size="20.2">ORs(95%CI)</text>
<text class="f1" transform="translate(1354.13 1541.90) scale(1 1.04)" font-size="20.2">1.00(Ref.)</text>
<text class="f1" transform="translate(1354.60 1591.70) scale(1 1.04)" font-size="20.2">0.965(0.818-1.137)</text>
<text class="f1" transform="translate(1354.13 1652.20) scale(1 1.04)" font-size="20.2">1.108(0.930-1.321)</text>
<text class="f1" transform="translate(1354.13 1710.00) scale(1 1.04)" font-size="20.2">1.218(1.006-1.475)</text>
<text class="f1" x="1365.45" y="1762.00" font-size="20.2">P for trend=0.039</text>
</svg>
</body></html>
